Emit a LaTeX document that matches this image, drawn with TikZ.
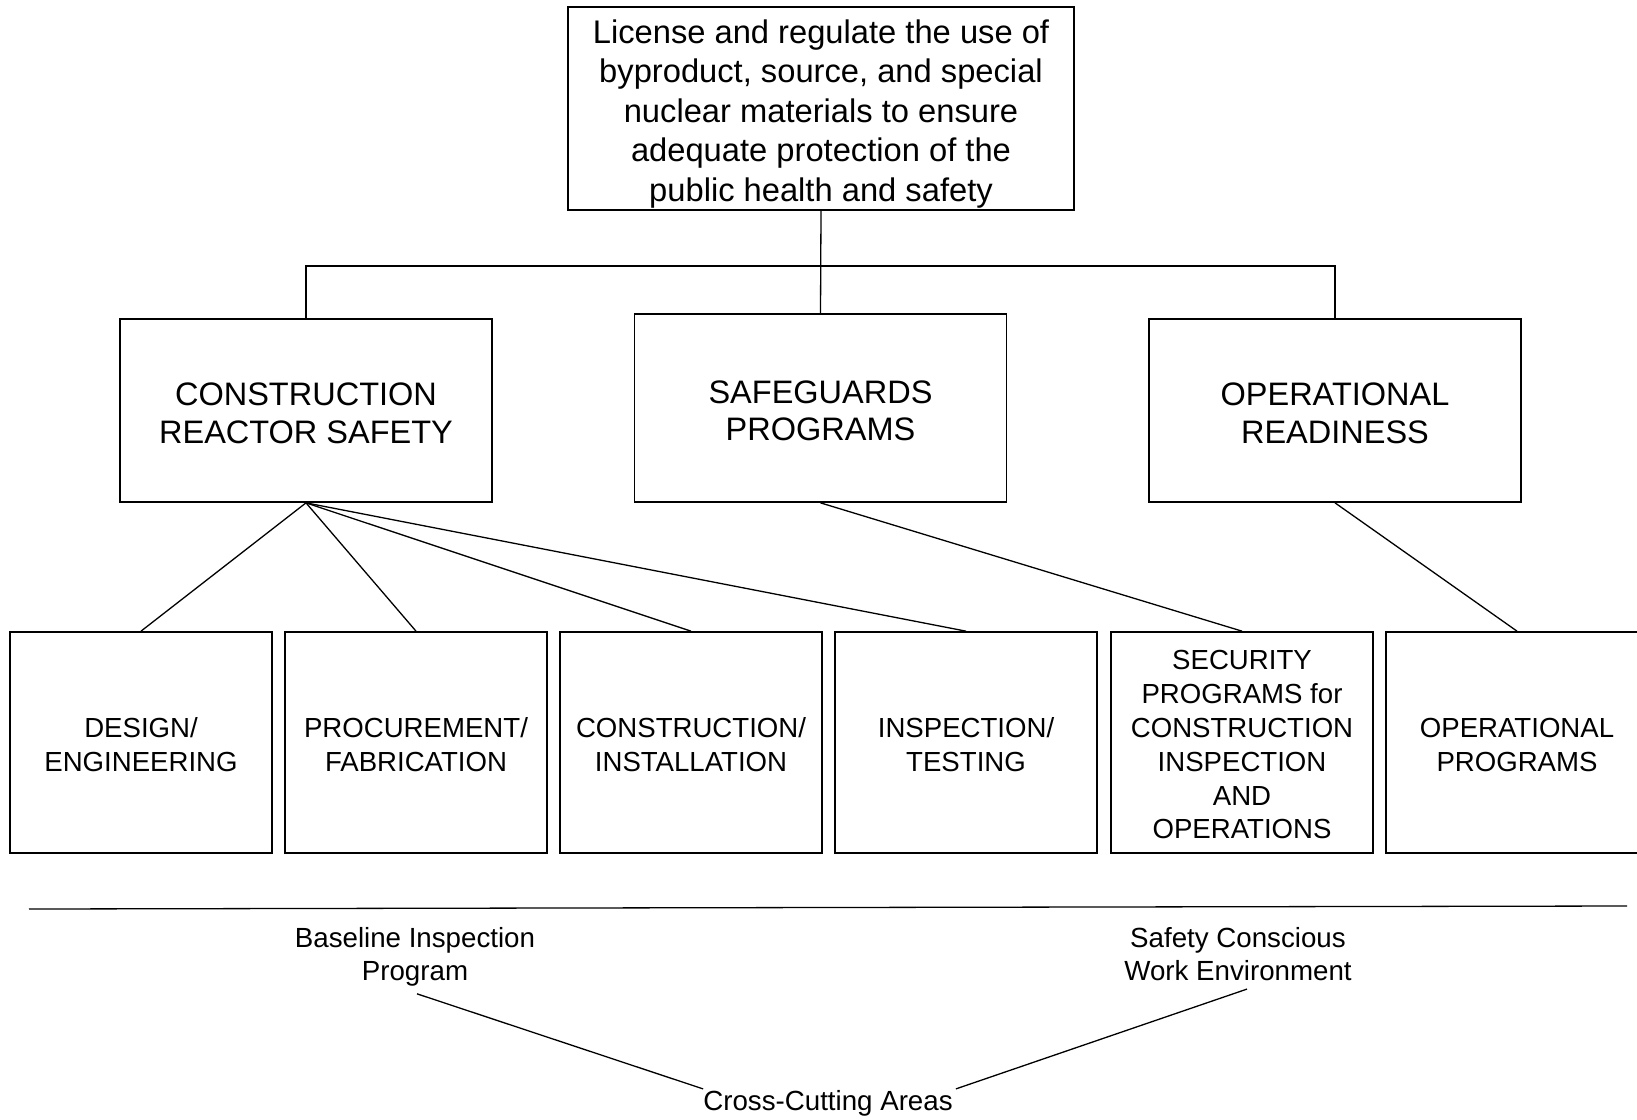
\documentclass[tikz,border=0pt]{standalone}
\usepackage{fontspec}
\setmainfont{Liberation Sans}

\begin{document}
\begin{tikzpicture}[x=1pt,y=-1pt]
        \useasboundingbox (0,0) rectangle (1637,1119);

        % goal
        \begin{scope}[every node/.style={draw, line width=1.7pt, align=center, inner sep=0pt}]
          \node[minimum width=506pt, minimum height=203pt, font=\fontsize{32.7}{39.4}\selectfont] (top) at (821,108.5)
            {\rule{0pt}{34.5pt}License and regulate the use of\\byproduct, source, and special\\nuclear materials to ensure\\adequate protection of the\\public health and safety};
        \end{scope}

        % strategic areas
        \begin{scope}[every node/.style={draw, line width=1.7pt, align=center, inner sep=0pt,
            minimum width=372pt, font=\fontsize{32.5}{37.6}\selectfont}]
          \node[minimum height=183pt] (crs) at (306,410.5)   {\rule{0pt}{28pt}CONSTRUCTION\\REACTOR SAFETY};
          \node[minimum height=188pt] (sg)  at (820.5,408)   {\rule{0pt}{28pt}SAFEGUARDS\\PROGRAMS};
          \node[minimum height=183pt] (or)  at (1335,410.5)  {\rule{0pt}{28pt}OPERATIONAL\\READINESS};
        \end{scope}

        % cornerstones
        \begin{scope}[every node/.style={draw, line width=1.7pt, align=center, inner sep=0pt,
            minimum width=262pt, minimum height=221pt, font=\fontsize{27.6}{33.8}\selectfont}]
          \node (de)  at (141,742.5)  {\rule{0pt}{24pt}DESIGN/\\ENGINEERING};
          \node (pf)  at (416,742.5)  {\rule{0pt}{24pt}PROCUREMENT/\\FABRICATION};
          \node (ci)  at (691,742.5)  {\rule{0pt}{24pt}CONSTRUCTION/\\INSTALLATION};
          \node (it)  at (966,742.5)  {\rule{0pt}{24pt}INSPECTION/\\TESTING};
          \node (sec) at (1242,742.5) {\rule{0pt}{24pt}SECURITY\\PROGRAMS for\\CONSTRUCTION\\INSPECTION\\AND\\OPERATIONS};
          \node (op)  at (1517,742.5) {\rule{0pt}{24pt}OPERATIONAL\\PROGRAMS};
        \end{scope}

        % cross-cutting areas
        \begin{scope}[every node/.style={align=center, inner sep=0pt, font=\fontsize{27.7}{33.4}\selectfont}]
          \node (bip) at (415,957)  {Baseline Inspection\\Program};
          \node (scw) at (1238,954) {Safety Conscious\\Work Environment};
          \node (cca) at (828,1103) {Cross-Cutting Areas};
        \end{scope}

        \coordinate (bus) at (821,266);

        \begin{scope}[line width=1.3pt]
          \draw (top.south) -- (sg.north);
          \draw (crs.north) |- (bus) -| (or.north);
          \path (crs.south) edge (de.north)
                            edge (pf.north)
                            edge (ci.north)
                            edge (it.north);
          \path (sg.south)  edge (sec.north);
          \path (or.south)  edge (op.north);
          \draw (29,909) -- (1627,906);
          \path ([xshift=2pt,yshift=-7pt]bip.south) edge ([yshift=1pt]cca.north west);
          \path ([xshift=9pt,yshift=-8pt]scw.south)  edge ([xshift=3pt,yshift=1pt]cca.north east);
        \end{scope}

      \end{tikzpicture}
\end{document}
